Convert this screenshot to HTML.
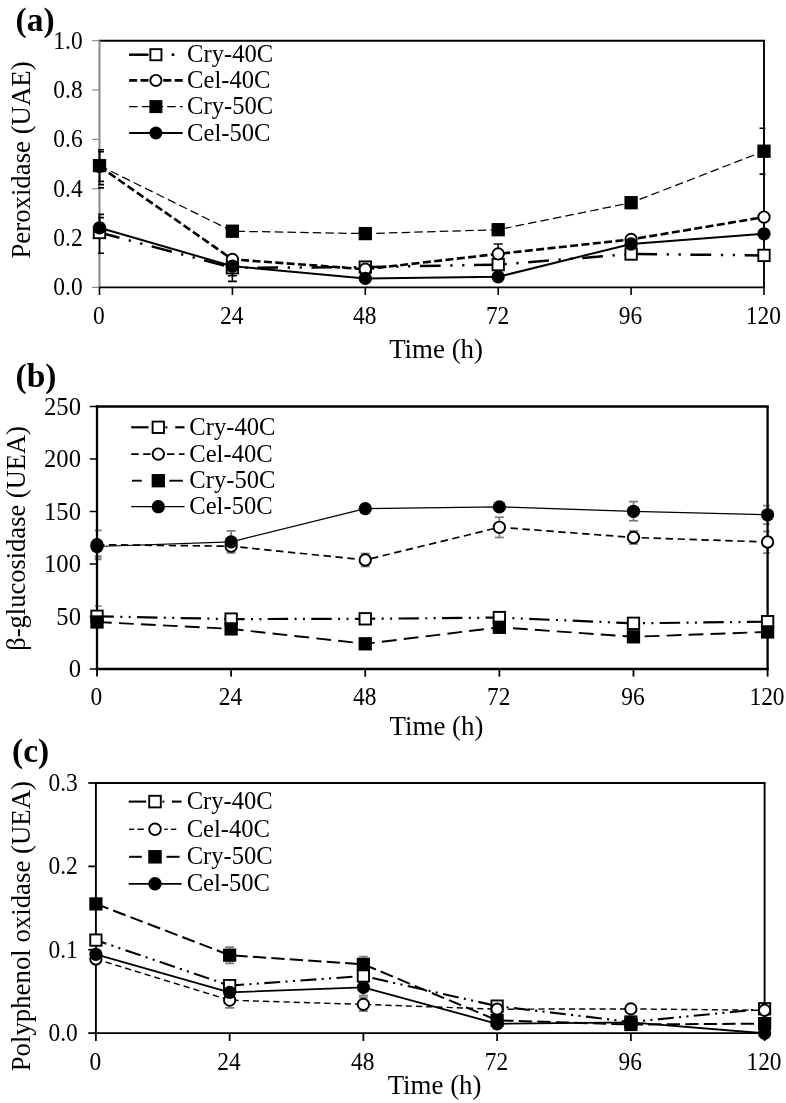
<!DOCTYPE html>
<html><head><meta charset="utf-8"><title>Enzyme activity charts</title>
<style>html,body{margin:0;padding:0;background:#fff;}body{width:786px;height:1103px;overflow:hidden;font-family:"Liberation Serif",serif;}svg{display:block;will-change:transform;filter:grayscale(1)}</style>
</head><body>
<svg width="786" height="1103" viewBox="0 0 786 1103" font-family="'Liberation Serif', serif" fill="#000">
<rect width="786" height="1103" fill="#fff"/>
<clipPath id="clipa"><rect x="98.1" y="35.7" width="667.3" height="256.7"/></clipPath>
<line x1="98.45" y1="40.70" x2="764.95" y2="40.70" stroke="#000" stroke-width="1.9" />
<line x1="764.00" y1="40.70" x2="764.00" y2="287.40" stroke="#000" stroke-width="1.9" />
<line x1="99.50" y1="40.70" x2="99.50" y2="287.40" stroke="#8c8c8c" stroke-width="2.1" />
<line x1="98.45" y1="287.40" x2="764.95" y2="287.40" stroke="#000" stroke-width="1.9" />
<line x1="92.20" y1="287.40" x2="99.50" y2="287.40" stroke="#8c8c8c" stroke-width="1.2" />
<text transform="translate(82.60,295.40) scale(0.945,1)" font-size="24.8" text-anchor="end" font-weight="normal" >0.0</text>
<line x1="92.20" y1="238.06" x2="99.50" y2="238.06" stroke="#8c8c8c" stroke-width="1.2" />
<text transform="translate(82.60,246.06) scale(0.945,1)" font-size="24.8" text-anchor="end" font-weight="normal" >0.2</text>
<line x1="92.20" y1="188.72" x2="99.50" y2="188.72" stroke="#8c8c8c" stroke-width="1.2" />
<text transform="translate(82.60,196.72) scale(0.945,1)" font-size="24.8" text-anchor="end" font-weight="normal" >0.4</text>
<line x1="92.20" y1="139.38" x2="99.50" y2="139.38" stroke="#8c8c8c" stroke-width="1.2" />
<text transform="translate(82.60,147.38) scale(0.945,1)" font-size="24.8" text-anchor="end" font-weight="normal" >0.6</text>
<line x1="92.20" y1="90.04" x2="99.50" y2="90.04" stroke="#8c8c8c" stroke-width="1.2" />
<text transform="translate(82.60,98.04) scale(0.945,1)" font-size="24.8" text-anchor="end" font-weight="normal" >0.8</text>
<line x1="92.20" y1="40.70" x2="99.50" y2="40.70" stroke="#8c8c8c" stroke-width="1.2" />
<text transform="translate(82.60,48.70) scale(0.945,1)" font-size="24.8" text-anchor="end" font-weight="normal" >1.0</text>
<line x1="99.50" y1="287.40" x2="99.50" y2="295.00" stroke="#000" stroke-width="1.6" />
<text transform="translate(98.90,323.60) scale(0.945,1)" font-size="24.8" text-anchor="middle" font-weight="normal" >0</text>
<line x1="232.40" y1="287.40" x2="232.40" y2="295.00" stroke="#000" stroke-width="1.6" />
<text transform="translate(231.80,323.60) scale(0.945,1)" font-size="24.8" text-anchor="middle" font-weight="normal" >24</text>
<line x1="365.30" y1="287.40" x2="365.30" y2="295.00" stroke="#000" stroke-width="1.6" />
<text transform="translate(364.70,323.60) scale(0.945,1)" font-size="24.8" text-anchor="middle" font-weight="normal" >48</text>
<line x1="498.20" y1="287.40" x2="498.20" y2="295.00" stroke="#000" stroke-width="1.6" />
<text transform="translate(497.60,323.60) scale(0.945,1)" font-size="24.8" text-anchor="middle" font-weight="normal" >72</text>
<line x1="631.10" y1="287.40" x2="631.10" y2="295.00" stroke="#000" stroke-width="1.6" />
<text transform="translate(630.50,323.60) scale(0.945,1)" font-size="24.8" text-anchor="middle" font-weight="normal" >96</text>
<line x1="764.00" y1="287.40" x2="764.00" y2="295.00" stroke="#000" stroke-width="1.6" />
<text transform="translate(763.40,323.60) scale(0.945,1)" font-size="24.8" text-anchor="middle" font-weight="normal" >120</text>
<text x="436.10" y="357.90" font-size="26.9" text-anchor="middle" font-weight="normal" >Time (h)</text>
<text x="0.00" y="0.00" font-size="26.8" text-anchor="middle" font-weight="normal" transform="translate(30.4,160.0) rotate(-90)">Peroxidase (UAE)</text>
<text x="15.50" y="30.60" font-size="33.5" text-anchor="start" font-weight="bold" >(a)</text>
<g clip-path="url(#clipa)" stroke="#000" stroke-width="1.6" fill="none">
<line x1="99.50" y1="149.70" x2="99.50" y2="181.40"/>
<line x1="95.00" y1="149.70" x2="104.00" y2="149.70"/>
<line x1="95.00" y1="181.40" x2="104.00" y2="181.40"/>
</g>
<g clip-path="url(#clipa)" stroke="#000" stroke-width="1.6" fill="none">
<line x1="99.50" y1="151.80" x2="99.50" y2="184.60"/>
<line x1="95.00" y1="151.80" x2="104.00" y2="151.80"/>
<line x1="95.00" y1="184.60" x2="104.00" y2="184.60"/>
</g>
<g clip-path="url(#clipa)" stroke="#000" stroke-width="1.6" fill="none">
<line x1="99.50" y1="214.40" x2="99.50" y2="253.20"/>
<line x1="95.00" y1="214.40" x2="104.00" y2="214.40"/>
<line x1="95.00" y1="253.20" x2="104.00" y2="253.20"/>
</g>
<g clip-path="url(#clipa)" stroke="#000" stroke-width="1.6" fill="none">
<line x1="99.50" y1="217.60" x2="99.50" y2="238.00"/>
<line x1="95.00" y1="217.60" x2="104.00" y2="217.60"/>
<line x1="95.00" y1="238.00" x2="104.00" y2="238.00"/>
</g>
<g clip-path="url(#clipa)" stroke="#000" stroke-width="1.6" fill="none">
<line x1="99.50" y1="187.80" x2="99.50" y2="187.80"/>
<line x1="95.00" y1="187.80" x2="104.00" y2="187.80"/>
<line x1="95.00" y1="187.80" x2="104.00" y2="187.80"/>
</g>
<g clip-path="url(#clipa)" stroke="#000" stroke-width="1.6" fill="none">
<line x1="232.40" y1="262.00" x2="232.40" y2="275.80"/>
<line x1="227.90" y1="262.00" x2="236.90" y2="262.00"/>
<line x1="227.90" y1="275.80" x2="236.90" y2="275.80"/>
</g>
<g clip-path="url(#clipa)" stroke="#000" stroke-width="1.6" fill="none">
<line x1="232.40" y1="262.00" x2="232.40" y2="281.40"/>
<line x1="227.90" y1="262.00" x2="236.90" y2="262.00"/>
<line x1="227.90" y1="281.40" x2="236.90" y2="281.40"/>
</g>
<g clip-path="url(#clipa)" stroke="#000" stroke-width="1.6" fill="none">
<line x1="498.20" y1="244.00" x2="498.20" y2="263.80"/>
<line x1="493.70" y1="244.00" x2="502.70" y2="244.00"/>
<line x1="493.70" y1="263.80" x2="502.70" y2="263.80"/>
</g>
<g clip-path="url(#clipa)" stroke="#000" stroke-width="1.6" fill="none">
<line x1="764.00" y1="128.20" x2="764.00" y2="174.10"/>
<line x1="759.50" y1="128.20" x2="768.50" y2="128.20"/>
<line x1="759.50" y1="174.10" x2="768.50" y2="174.10"/>
</g>
<polyline points="99.50,232.50 232.40,267.80 365.30,267.10 498.20,264.60 631.10,254.00 764.00,255.40" fill="none" stroke="#000" stroke-width="2.5" stroke-dasharray="20.8 9.6 2.3 9.6 2.3 9.6" stroke-dashoffset="0.2" stroke-linecap="butt" stroke-linejoin="round"/>
<polyline points="99.50,166.40 232.40,259.40 365.30,269.20 498.20,253.90 631.10,239.40 764.00,217.10" fill="none" stroke="#000" stroke-width="2.6" stroke-dasharray="8 3.4" stroke-dashoffset="0" stroke-linecap="butt" stroke-linejoin="round"/>
<polyline points="99.50,165.60 232.40,231.20 365.30,233.60 498.20,229.70 631.10,202.70 764.00,151.20" fill="none" stroke="#000" stroke-width="1.25" stroke-dasharray="8.5 4.2" stroke-dashoffset="0" stroke-linecap="butt" stroke-linejoin="round"/>
<polyline points="99.50,227.80 232.40,266.20 365.30,278.40 498.20,276.80 631.10,244.00 764.00,233.80" fill="none" stroke="#000" stroke-width="2.0"  stroke-linecap="butt" stroke-linejoin="round"/>
<rect x="93.80" y="226.80" width="11.40" height="11.40" fill="#fff" stroke="#000" stroke-width="1.9"/>
<rect x="226.70" y="262.10" width="11.40" height="11.40" fill="#fff" stroke="#000" stroke-width="1.9"/>
<rect x="359.60" y="261.40" width="11.40" height="11.40" fill="#fff" stroke="#000" stroke-width="1.9"/>
<rect x="492.50" y="258.90" width="11.40" height="11.40" fill="#fff" stroke="#000" stroke-width="1.9"/>
<rect x="625.40" y="248.30" width="11.40" height="11.40" fill="#fff" stroke="#000" stroke-width="1.9"/>
<rect x="758.30" y="249.70" width="11.40" height="11.40" fill="#fff" stroke="#000" stroke-width="1.9"/>
<circle cx="99.50" cy="166.40" r="5.70" fill="#fff" stroke="#000" stroke-width="1.9"/>
<circle cx="232.40" cy="259.40" r="5.70" fill="#fff" stroke="#000" stroke-width="1.9"/>
<circle cx="365.30" cy="269.20" r="5.70" fill="#fff" stroke="#000" stroke-width="1.9"/>
<circle cx="498.20" cy="253.90" r="5.70" fill="#fff" stroke="#000" stroke-width="1.9"/>
<circle cx="631.10" cy="239.40" r="5.70" fill="#fff" stroke="#000" stroke-width="1.9"/>
<circle cx="764.00" cy="217.10" r="5.70" fill="#fff" stroke="#000" stroke-width="1.9"/>
<rect x="92.85" y="158.95" width="13.30" height="13.30" fill="#000"/>
<rect x="225.75" y="224.55" width="13.30" height="13.30" fill="#000"/>
<rect x="358.65" y="226.95" width="13.30" height="13.30" fill="#000"/>
<rect x="491.55" y="223.05" width="13.30" height="13.30" fill="#000"/>
<rect x="624.45" y="196.05" width="13.30" height="13.30" fill="#000"/>
<rect x="757.35" y="144.55" width="13.30" height="13.30" fill="#000"/>
<circle cx="99.50" cy="227.80" r="6.65" fill="#000"/>
<circle cx="232.40" cy="266.20" r="6.65" fill="#000"/>
<circle cx="365.30" cy="278.40" r="6.65" fill="#000"/>
<circle cx="498.20" cy="276.80" r="6.65" fill="#000"/>
<circle cx="631.10" cy="244.00" r="6.65" fill="#000"/>
<circle cx="764.00" cy="233.80" r="6.65" fill="#000"/>
<line x1="129.10" y1="54.70" x2="148.50" y2="54.70" stroke="#000" stroke-width="2.5" />
<line x1="171.60" y1="54.70" x2="174.40" y2="54.70" stroke="#000" stroke-width="2.5" />
<rect x="150.35" y="49.15" width="11.10" height="11.10" fill="#fff" stroke="#000" stroke-width="1.9"/>
<text x="187.10" y="62.20" font-size="24.6" text-anchor="start" font-weight="normal" >Cry-40C</text>
<polyline points="129.10,80.40 182.70,80.40" fill="none" stroke="#000" stroke-width="2.6" stroke-dasharray="8 3.4" stroke-dashoffset="0" stroke-linecap="butt" stroke-linejoin="round"/>
<circle cx="155.90" cy="80.40" r="5.55" fill="#fff" stroke="#000" stroke-width="1.9"/>
<text x="187.10" y="87.90" font-size="24.6" text-anchor="start" font-weight="normal" >Cel-40C</text>
<polyline points="129.10,106.60 182.70,106.60" fill="none" stroke="#000" stroke-width="1.25" stroke-dasharray="8.5 4.2" stroke-dashoffset="0" stroke-linecap="butt" stroke-linejoin="round"/>
<rect x="149.40" y="100.10" width="13.00" height="13.00" fill="#000"/>
<text x="187.10" y="114.10" font-size="24.6" text-anchor="start" font-weight="normal" >Cry-50C</text>
<polyline points="129.10,133.00 182.70,133.00" fill="none" stroke="#000" stroke-width="2.0"  stroke-linecap="butt" stroke-linejoin="round"/>
<circle cx="155.90" cy="133.00" r="6.50" fill="#000"/>
<text x="187.10" y="140.50" font-size="24.6" text-anchor="start" font-weight="normal" >Cel-50C</text>
<clipPath id="clipb"><rect x="94.8" y="401.5" width="675.0" height="272.5"/></clipPath>
<g clip-path="url(#clipb)" stroke="#7c7c7c" stroke-width="1.7" fill="none">
<line x1="97.00" y1="530.30" x2="97.00" y2="559.50"/>
<line x1="92.50" y1="530.30" x2="101.50" y2="530.30"/>
<line x1="92.50" y1="559.50" x2="101.50" y2="559.50"/>
</g>
<g clip-path="url(#clipb)" stroke="#7c7c7c" stroke-width="1.7" fill="none">
<line x1="97.00" y1="556.20" x2="97.00" y2="558.00"/>
<line x1="92.50" y1="556.20" x2="101.50" y2="556.20"/>
<line x1="92.50" y1="558.00" x2="101.50" y2="558.00"/>
</g>
<g clip-path="url(#clipb)" stroke="#7c7c7c" stroke-width="1.7" fill="none">
<line x1="97.00" y1="606.00" x2="97.00" y2="626.00"/>
<line x1="92.50" y1="606.00" x2="101.50" y2="606.00"/>
<line x1="92.50" y1="626.00" x2="101.50" y2="626.00"/>
</g>
<g clip-path="url(#clipb)" stroke="#7c7c7c" stroke-width="1.7" fill="none">
<line x1="231.12" y1="530.90" x2="231.12" y2="553.00"/>
<line x1="226.62" y1="530.90" x2="235.62" y2="530.90"/>
<line x1="226.62" y1="553.00" x2="235.62" y2="553.00"/>
</g>
<g clip-path="url(#clipb)" stroke="#7c7c7c" stroke-width="1.7" fill="none">
<line x1="365.24" y1="553.50" x2="365.24" y2="566.50"/>
<line x1="360.74" y1="553.50" x2="369.74" y2="553.50"/>
<line x1="360.74" y1="566.50" x2="369.74" y2="566.50"/>
</g>
<g clip-path="url(#clipb)" stroke="#7c7c7c" stroke-width="1.7" fill="none">
<line x1="499.36" y1="517.20" x2="499.36" y2="537.50"/>
<line x1="494.86" y1="517.20" x2="503.86" y2="517.20"/>
<line x1="494.86" y1="537.50" x2="503.86" y2="537.50"/>
</g>
<g clip-path="url(#clipb)" stroke="#7c7c7c" stroke-width="1.7" fill="none">
<line x1="633.48" y1="501.60" x2="633.48" y2="520.80"/>
<line x1="628.98" y1="501.60" x2="637.98" y2="501.60"/>
<line x1="628.98" y1="520.80" x2="637.98" y2="520.80"/>
</g>
<g clip-path="url(#clipb)" stroke="#7c7c7c" stroke-width="1.7" fill="none">
<line x1="633.48" y1="531.00" x2="633.48" y2="544.00"/>
<line x1="628.98" y1="531.00" x2="637.98" y2="531.00"/>
<line x1="628.98" y1="544.00" x2="637.98" y2="544.00"/>
</g>
<g clip-path="url(#clipb)" stroke="#7c7c7c" stroke-width="1.7" fill="none">
<line x1="767.60" y1="505.60" x2="767.60" y2="524.10"/>
<line x1="763.10" y1="505.60" x2="772.10" y2="505.60"/>
<line x1="763.10" y1="524.10" x2="772.10" y2="524.10"/>
</g>
<g clip-path="url(#clipb)" stroke="#7c7c7c" stroke-width="1.7" fill="none">
<line x1="767.60" y1="531.40" x2="767.60" y2="553.10"/>
<line x1="763.10" y1="531.40" x2="772.10" y2="531.40"/>
<line x1="763.10" y1="553.10" x2="772.10" y2="553.10"/>
</g>
<line x1="95.85" y1="406.50" x2="768.75" y2="406.50" stroke="#000" stroke-width="2.3" />
<line x1="767.60" y1="406.50" x2="767.60" y2="669.00" stroke="#000" stroke-width="2.3" />
<line x1="97.00" y1="405.35" x2="97.00" y2="670.15" stroke="#000" stroke-width="2.3" />
<line x1="95.85" y1="669.00" x2="768.75" y2="669.00" stroke="#000" stroke-width="2.3" />
<line x1="89.70" y1="669.00" x2="97.00" y2="669.00" stroke="#000" stroke-width="1.5" />
<text transform="translate(81.00,677.00) scale(0.995,1)" font-size="24.8" text-anchor="end" font-weight="normal" >0</text>
<line x1="89.70" y1="616.50" x2="97.00" y2="616.50" stroke="#000" stroke-width="1.5" />
<text transform="translate(81.00,624.50) scale(0.995,1)" font-size="24.8" text-anchor="end" font-weight="normal" >50</text>
<line x1="89.70" y1="564.00" x2="97.00" y2="564.00" stroke="#000" stroke-width="1.5" />
<text transform="translate(81.00,572.00) scale(0.995,1)" font-size="24.8" text-anchor="end" font-weight="normal" >100</text>
<line x1="89.70" y1="511.50" x2="97.00" y2="511.50" stroke="#000" stroke-width="1.5" />
<text transform="translate(81.00,519.50) scale(0.995,1)" font-size="24.8" text-anchor="end" font-weight="normal" >150</text>
<line x1="89.70" y1="459.00" x2="97.00" y2="459.00" stroke="#000" stroke-width="1.5" />
<text transform="translate(81.00,467.00) scale(0.995,1)" font-size="24.8" text-anchor="end" font-weight="normal" >200</text>
<line x1="89.70" y1="406.50" x2="97.00" y2="406.50" stroke="#000" stroke-width="1.5" />
<text transform="translate(81.00,414.50) scale(0.995,1)" font-size="24.8" text-anchor="end" font-weight="normal" >250</text>
<line x1="97.00" y1="669.00" x2="97.00" y2="676.60" stroke="#000" stroke-width="1.8" />
<text transform="translate(96.40,705.00) scale(0.945,1)" font-size="24.8" text-anchor="middle" font-weight="normal" >0</text>
<line x1="231.12" y1="669.00" x2="231.12" y2="676.60" stroke="#000" stroke-width="1.8" />
<text transform="translate(230.52,705.00) scale(0.945,1)" font-size="24.8" text-anchor="middle" font-weight="normal" >24</text>
<line x1="365.24" y1="669.00" x2="365.24" y2="676.60" stroke="#000" stroke-width="1.8" />
<text transform="translate(364.64,705.00) scale(0.945,1)" font-size="24.8" text-anchor="middle" font-weight="normal" >48</text>
<line x1="499.36" y1="669.00" x2="499.36" y2="676.60" stroke="#000" stroke-width="1.8" />
<text transform="translate(498.76,705.00) scale(0.945,1)" font-size="24.8" text-anchor="middle" font-weight="normal" >72</text>
<line x1="633.48" y1="669.00" x2="633.48" y2="676.60" stroke="#000" stroke-width="1.8" />
<text transform="translate(632.88,705.00) scale(0.945,1)" font-size="24.8" text-anchor="middle" font-weight="normal" >96</text>
<line x1="767.60" y1="669.00" x2="767.60" y2="676.60" stroke="#000" stroke-width="1.8" />
<text transform="translate(767.00,705.00) scale(0.945,1)" font-size="24.8" text-anchor="middle" font-weight="normal" >120</text>
<text x="436.50" y="735.30" font-size="26.9" text-anchor="middle" font-weight="normal" >Time (h)</text>
<text x="0.00" y="0.00" font-size="26.5" text-anchor="middle" font-weight="normal" transform="translate(25.2,538.4) rotate(-90)">β-glucosidase (UEA)</text>
<text x="15.50" y="386.50" font-size="33.5" text-anchor="start" font-weight="bold" >(b)</text>
<polyline points="97.00,616.30 231.12,619.10 365.24,618.80 499.36,617.60 633.48,623.30 767.60,621.70" fill="none" stroke="#000" stroke-width="2.2" stroke-dasharray="20.4 6.4 2 6.4 2 6.37" stroke-dashoffset="3.5" stroke-linecap="butt" stroke-linejoin="round"/>
<polyline points="97.00,544.70 231.12,546.20 365.24,560.00 499.36,527.30 633.48,537.50 767.60,542.00" fill="none" stroke="#000" stroke-width="1.7" stroke-dasharray="7.4 4.55" stroke-dashoffset="0" stroke-linecap="butt" stroke-linejoin="round"/>
<polyline points="97.00,622.00 231.12,628.90 365.24,643.80 499.36,627.30 633.48,636.80 767.60,631.90" fill="none" stroke="#000" stroke-width="1.9" stroke-dasharray="14.8 7.2" stroke-dashoffset="0" stroke-linecap="butt" stroke-linejoin="round"/>
<polyline points="97.00,546.50 231.12,541.90 365.24,508.60 499.36,506.90 633.48,511.30 767.60,514.80" fill="none" stroke="#000" stroke-width="1.25"  stroke-linecap="butt" stroke-linejoin="round"/>
<rect x="91.30" y="610.60" width="11.40" height="11.40" fill="#fff" stroke="#000" stroke-width="1.9"/>
<rect x="225.42" y="613.40" width="11.40" height="11.40" fill="#fff" stroke="#000" stroke-width="1.9"/>
<rect x="359.54" y="613.10" width="11.40" height="11.40" fill="#fff" stroke="#000" stroke-width="1.9"/>
<rect x="493.66" y="611.90" width="11.40" height="11.40" fill="#fff" stroke="#000" stroke-width="1.9"/>
<rect x="627.78" y="617.60" width="11.40" height="11.40" fill="#fff" stroke="#000" stroke-width="1.9"/>
<rect x="761.90" y="616.00" width="11.40" height="11.40" fill="#fff" stroke="#000" stroke-width="1.9"/>
<circle cx="97.00" cy="544.70" r="5.70" fill="#fff" stroke="#000" stroke-width="1.9"/>
<circle cx="231.12" cy="546.20" r="5.70" fill="#fff" stroke="#000" stroke-width="1.9"/>
<circle cx="365.24" cy="560.00" r="5.70" fill="#fff" stroke="#000" stroke-width="1.9"/>
<circle cx="499.36" cy="527.30" r="5.70" fill="#fff" stroke="#000" stroke-width="1.9"/>
<circle cx="633.48" cy="537.50" r="5.70" fill="#fff" stroke="#000" stroke-width="1.9"/>
<circle cx="767.60" cy="542.00" r="5.70" fill="#fff" stroke="#000" stroke-width="1.9"/>
<rect x="90.35" y="615.35" width="13.30" height="13.30" fill="#000"/>
<rect x="224.47" y="622.25" width="13.30" height="13.30" fill="#000"/>
<rect x="358.59" y="637.15" width="13.30" height="13.30" fill="#000"/>
<rect x="492.71" y="620.65" width="13.30" height="13.30" fill="#000"/>
<rect x="626.83" y="630.15" width="13.30" height="13.30" fill="#000"/>
<rect x="760.95" y="625.25" width="13.30" height="13.30" fill="#000"/>
<circle cx="97.00" cy="546.50" r="6.65" fill="#000"/>
<circle cx="231.12" cy="541.90" r="6.65" fill="#000"/>
<circle cx="365.24" cy="508.60" r="6.65" fill="#000"/>
<circle cx="499.36" cy="506.90" r="6.65" fill="#000"/>
<circle cx="633.48" cy="511.30" r="6.65" fill="#000"/>
<circle cx="767.60" cy="514.80" r="6.65" fill="#000"/>
<line x1="131.20" y1="427.30" x2="148.50" y2="427.30" stroke="#000" stroke-width="2.2" />
<line x1="165.40" y1="427.30" x2="167.40" y2="427.30" stroke="#000" stroke-width="2.2" />
<line x1="175.20" y1="427.30" x2="184.50" y2="427.30" stroke="#000" stroke-width="2.2" />
<rect x="152.60" y="421.60" width="11.40" height="11.40" fill="#fff" stroke="#000" stroke-width="1.9"/>
<text x="189.30" y="434.80" font-size="24.6" text-anchor="start" font-weight="normal" >Cry-40C</text>
<polyline points="131.20,454.10 184.50,454.10" fill="none" stroke="#000" stroke-width="1.7" stroke-dasharray="7.4 4.55" stroke-dashoffset="0" stroke-linecap="butt" stroke-linejoin="round"/>
<circle cx="158.30" cy="454.10" r="5.70" fill="#fff" stroke="#000" stroke-width="1.9"/>
<text x="189.30" y="461.60" font-size="24.6" text-anchor="start" font-weight="normal" >Cel-40C</text>
<line x1="131.90" y1="480.70" x2="141.80" y2="480.70" stroke="#000" stroke-width="1.9" />
<line x1="169.30" y1="480.70" x2="182.90" y2="480.70" stroke="#000" stroke-width="1.9" />
<rect x="151.65" y="474.05" width="13.30" height="13.30" fill="#000"/>
<text x="189.30" y="488.20" font-size="24.6" text-anchor="start" font-weight="normal" >Cry-50C</text>
<polyline points="131.20,506.70 184.50,506.70" fill="none" stroke="#000" stroke-width="1.25"  stroke-linecap="butt" stroke-linejoin="round"/>
<circle cx="158.30" cy="506.70" r="6.65" fill="#000"/>
<text x="189.30" y="514.20" font-size="24.6" text-anchor="start" font-weight="normal" >Cel-50C</text>
<clipPath id="clipc"><rect x="93.9" y="778.0" width="672.7" height="260.0999999999999"/></clipPath>
<g clip-path="url(#clipc)" stroke="#7c7c7c" stroke-width="1.7" fill="none">
<line x1="229.64" y1="947.20" x2="229.64" y2="963.30"/>
<line x1="225.14" y1="947.20" x2="234.14" y2="947.20"/>
<line x1="225.14" y1="963.30" x2="234.14" y2="963.30"/>
</g>
<g clip-path="url(#clipc)" stroke="#7c7c7c" stroke-width="1.7" fill="none">
<line x1="229.64" y1="992.50" x2="229.64" y2="1007.90"/>
<line x1="225.14" y1="992.50" x2="234.14" y2="992.50"/>
<line x1="225.14" y1="1007.90" x2="234.14" y2="1007.90"/>
</g>
<g clip-path="url(#clipc)" stroke="#7c7c7c" stroke-width="1.7" fill="none">
<line x1="363.38" y1="956.50" x2="363.38" y2="972.00"/>
<line x1="358.88" y1="956.50" x2="367.88" y2="956.50"/>
<line x1="358.88" y1="972.00" x2="367.88" y2="972.00"/>
</g>
<g clip-path="url(#clipc)" stroke="#7c7c7c" stroke-width="1.7" fill="none">
<line x1="363.38" y1="979.00" x2="363.38" y2="995.50"/>
<line x1="358.88" y1="979.00" x2="367.88" y2="979.00"/>
<line x1="358.88" y1="995.50" x2="367.88" y2="995.50"/>
</g>
<g clip-path="url(#clipc)" stroke="#7c7c7c" stroke-width="1.7" fill="none">
<line x1="363.38" y1="997.40" x2="363.38" y2="1011.20"/>
<line x1="358.88" y1="997.40" x2="367.88" y2="997.40"/>
<line x1="358.88" y1="1011.20" x2="367.88" y2="1011.20"/>
</g>
<line x1="94.95" y1="783.00" x2="765.55" y2="783.00" stroke="#000" stroke-width="1.9" />
<line x1="764.60" y1="783.00" x2="764.60" y2="1033.10" stroke="#000" stroke-width="1.9" />
<line x1="95.90" y1="782.05" x2="95.90" y2="1034.05" stroke="#000" stroke-width="1.9" />
<line x1="94.95" y1="1033.10" x2="765.55" y2="1033.10" stroke="#000" stroke-width="1.9" />
<line x1="88.30" y1="1033.10" x2="95.90" y2="1033.10" stroke="#000" stroke-width="1.8" />
<text transform="translate(77.80,1041.10) scale(0.945,1)" font-size="24.8" text-anchor="end" font-weight="normal" >0.0</text>
<line x1="88.30" y1="949.73" x2="95.90" y2="949.73" stroke="#000" stroke-width="1.8" />
<text transform="translate(77.80,957.73) scale(0.945,1)" font-size="24.8" text-anchor="end" font-weight="normal" >0.1</text>
<line x1="88.30" y1="866.37" x2="95.90" y2="866.37" stroke="#000" stroke-width="1.8" />
<text transform="translate(77.80,874.37) scale(0.945,1)" font-size="24.8" text-anchor="end" font-weight="normal" >0.2</text>
<line x1="88.30" y1="783.00" x2="95.90" y2="783.00" stroke="#000" stroke-width="1.8" />
<text transform="translate(77.80,791.00) scale(0.945,1)" font-size="24.8" text-anchor="end" font-weight="normal" >0.3</text>
<line x1="95.90" y1="1033.10" x2="95.90" y2="1041.00" stroke="#000" stroke-width="1.8" />
<text transform="translate(95.30,1069.50) scale(0.945,1)" font-size="24.8" text-anchor="middle" font-weight="normal" >0</text>
<line x1="229.64" y1="1033.10" x2="229.64" y2="1041.00" stroke="#000" stroke-width="1.8" />
<text transform="translate(229.04,1069.50) scale(0.945,1)" font-size="24.8" text-anchor="middle" font-weight="normal" >24</text>
<line x1="363.38" y1="1033.10" x2="363.38" y2="1041.00" stroke="#000" stroke-width="1.8" />
<text transform="translate(362.78,1069.50) scale(0.945,1)" font-size="24.8" text-anchor="middle" font-weight="normal" >48</text>
<line x1="497.12" y1="1033.10" x2="497.12" y2="1041.00" stroke="#000" stroke-width="1.8" />
<text transform="translate(496.52,1069.50) scale(0.945,1)" font-size="24.8" text-anchor="middle" font-weight="normal" >72</text>
<line x1="630.86" y1="1033.10" x2="630.86" y2="1041.00" stroke="#000" stroke-width="1.8" />
<text transform="translate(630.26,1069.50) scale(0.945,1)" font-size="24.8" text-anchor="middle" font-weight="normal" >96</text>
<line x1="764.60" y1="1033.10" x2="764.60" y2="1041.00" stroke="#000" stroke-width="1.8" />
<text transform="translate(764.00,1069.50) scale(0.945,1)" font-size="24.8" text-anchor="middle" font-weight="normal" >120</text>
<text x="434.60" y="1094.10" font-size="26.9" text-anchor="middle" font-weight="normal" >Time (h)</text>
<text x="0.00" y="0.00" font-size="26.8" text-anchor="middle" font-weight="normal" transform="translate(30.0,926.2) rotate(-90)">Polyphenol oxidase (UEA)</text>
<text x="12.00" y="762.20" font-size="33.5" text-anchor="start" font-weight="bold" >(c)</text>
<polyline points="95.90,940.10 229.64,985.60 363.38,976.00 497.12,1006.10 630.86,1022.00 764.60,1008.80" fill="none" stroke="#000" stroke-width="2.1" stroke-dasharray="16 5.3 2.1 5.3 2.1 5.4" stroke-dashoffset="5" stroke-linecap="butt" stroke-linejoin="round"/>
<polyline points="95.90,959.00 229.64,1000.20 363.38,1004.40 497.12,1009.20 630.86,1008.90 764.60,1010.30" fill="none" stroke="#000" stroke-width="1.45" stroke-dasharray="6.2 4" stroke-dashoffset="0" stroke-linecap="butt" stroke-linejoin="round"/>
<polyline points="95.90,903.90 229.64,955.20 363.38,964.30 497.12,1020.30 630.86,1024.50 764.60,1023.60" fill="none" stroke="#000" stroke-width="2.0" stroke-dasharray="13.3 5.2" stroke-dashoffset="0" stroke-linecap="butt" stroke-linejoin="round"/>
<polyline points="95.90,954.30 229.64,992.30 363.38,987.30 497.12,1023.80 630.86,1022.30 764.60,1033.30" fill="none" stroke="#000" stroke-width="1.8"  stroke-linecap="butt" stroke-linejoin="round"/>
<rect x="90.25" y="934.45" width="11.30" height="11.30" fill="#fff" stroke="#000" stroke-width="1.9"/>
<rect x="223.99" y="979.95" width="11.30" height="11.30" fill="#fff" stroke="#000" stroke-width="1.9"/>
<rect x="357.73" y="970.35" width="11.30" height="11.30" fill="#fff" stroke="#000" stroke-width="1.9"/>
<rect x="491.47" y="1000.45" width="11.30" height="11.30" fill="#fff" stroke="#000" stroke-width="1.9"/>
<rect x="625.21" y="1016.35" width="11.30" height="11.30" fill="#fff" stroke="#000" stroke-width="1.9"/>
<rect x="758.95" y="1003.15" width="11.30" height="11.30" fill="#fff" stroke="#000" stroke-width="1.9"/>
<circle cx="95.90" cy="959.00" r="5.65" fill="#fff" stroke="#000" stroke-width="1.9"/>
<circle cx="229.64" cy="1000.20" r="5.65" fill="#fff" stroke="#000" stroke-width="1.9"/>
<circle cx="363.38" cy="1004.40" r="5.65" fill="#fff" stroke="#000" stroke-width="1.9"/>
<circle cx="497.12" cy="1009.20" r="5.65" fill="#fff" stroke="#000" stroke-width="1.9"/>
<circle cx="630.86" cy="1008.90" r="5.65" fill="#fff" stroke="#000" stroke-width="1.9"/>
<circle cx="764.60" cy="1010.30" r="5.65" fill="#fff" stroke="#000" stroke-width="1.9"/>
<rect x="89.30" y="897.30" width="13.20" height="13.20" fill="#000"/>
<rect x="223.04" y="948.60" width="13.20" height="13.20" fill="#000"/>
<rect x="356.78" y="957.70" width="13.20" height="13.20" fill="#000"/>
<rect x="490.52" y="1013.70" width="13.20" height="13.20" fill="#000"/>
<rect x="624.26" y="1017.90" width="13.20" height="13.20" fill="#000"/>
<rect x="758.00" y="1017.00" width="13.20" height="13.20" fill="#000"/>
<circle cx="95.90" cy="954.30" r="6.60" fill="#000"/>
<circle cx="229.64" cy="992.30" r="6.60" fill="#000"/>
<circle cx="363.38" cy="987.30" r="6.60" fill="#000"/>
<circle cx="497.12" cy="1023.80" r="6.60" fill="#000"/>
<circle cx="630.86" cy="1022.30" r="6.60" fill="#000"/>
<circle cx="764.60" cy="1033.30" r="6.60" fill="#000"/>
<line x1="128.70" y1="801.60" x2="146.20" y2="801.60" stroke="#000" stroke-width="2.1" />
<line x1="162.50" y1="801.60" x2="164.30" y2="801.60" stroke="#000" stroke-width="2.1" />
<line x1="171.90" y1="801.60" x2="181.60" y2="801.60" stroke="#000" stroke-width="2.1" />
<rect x="149.20" y="795.80" width="11.60" height="11.60" fill="#fff" stroke="#000" stroke-width="1.9"/>
<text x="186.70" y="809.10" font-size="24.6" text-anchor="start" font-weight="normal" >Cry-40C</text>
<line x1="129.10" y1="829.30" x2="134.20" y2="829.30" stroke="#000" stroke-width="1.45" />
<line x1="137.40" y1="829.30" x2="143.90" y2="829.30" stroke="#000" stroke-width="1.45" />
<line x1="164.30" y1="829.30" x2="167.70" y2="829.30" stroke="#000" stroke-width="1.45" />
<line x1="170.90" y1="829.30" x2="176.30" y2="829.30" stroke="#000" stroke-width="1.45" />
<circle cx="155.00" cy="829.30" r="5.80" fill="#fff" stroke="#000" stroke-width="1.9"/>
<text x="186.70" y="836.80" font-size="24.6" text-anchor="start" font-weight="normal" >Cel-40C</text>
<line x1="129.10" y1="856.80" x2="141.80" y2="856.80" stroke="#000" stroke-width="2.0" />
<line x1="166.50" y1="856.80" x2="179.60" y2="856.80" stroke="#000" stroke-width="2.0" />
<rect x="148.25" y="850.05" width="13.50" height="13.50" fill="#000"/>
<text x="186.70" y="864.30" font-size="24.6" text-anchor="start" font-weight="normal" >Cry-50C</text>
<polyline points="128.70,883.80 181.60,883.80" fill="none" stroke="#000" stroke-width="1.8"  stroke-linecap="butt" stroke-linejoin="round"/>
<circle cx="155.00" cy="883.80" r="6.75" fill="#000"/>
<text x="186.70" y="891.30" font-size="24.6" text-anchor="start" font-weight="normal" >Cel-50C</text>
</svg>
</body></html>
